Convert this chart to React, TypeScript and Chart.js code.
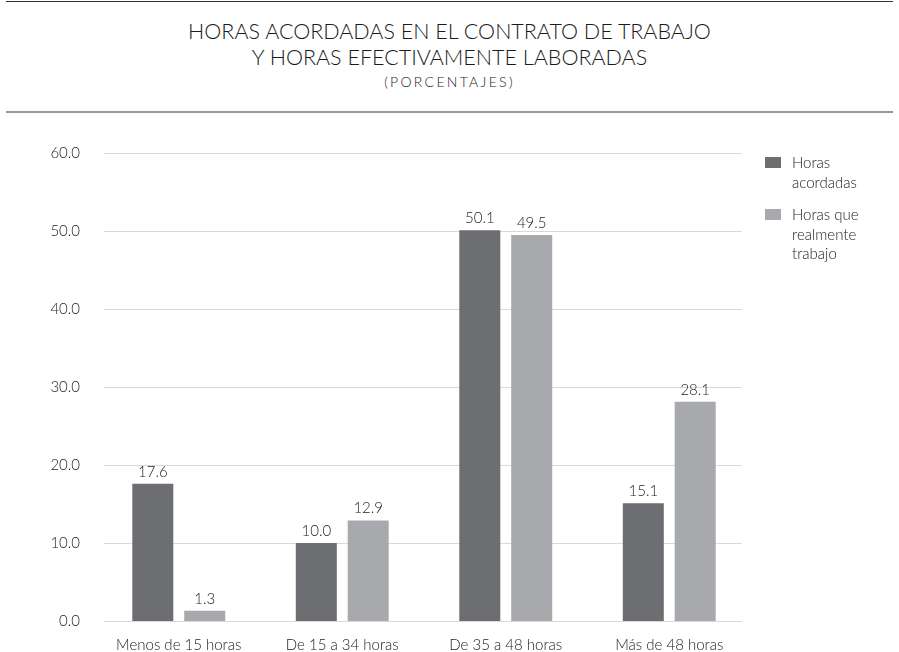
import React, { useEffect, useRef } from "react";
import { Chart, registerables } from "chart.js";

Chart.register(...registerables);

const categories = ["Menos de 15 horas", "De 15 a 34 horas", "De 35 a 48 horas", "Más de 48 horas"];
const acordadas = [17.6, 10.0, 50.1, 15.1];
const realmente = [1.3, 12.9, 49.5, 28.1];
const seriesLabels = [["Horas", "acordadas"], ["Horas que", "realmente", "trabajo"]];
const seriesColors = ["#6d6e71", "#a7a9ac"];
const titleLines = ["HORAS ACORDADAS EN EL CONTRATO DE TRABAJO", "Y HORAS EFECTIVAMENTE LABORADAS"];
const subtitle = "(PORCENTAJES)";
const yMin = 0;
const yMax = 60;
const yStep = 10;

const FONT = "Lato, 'Open Sans', sans-serif";
const TEXT = "#222222";

const gridPlugin = {
  id: "shortGrid",
  beforeDatasetsDraw(chart: any) {
    const { ctx, chartArea, scales } = chart;
    const y = scales.y;
    ctx.save();
    ctx.strokeStyle = "#d9d9d9";
    ctx.lineWidth = 1;
    y.ticks.forEach((t: any) => {
      const py = Math.round(y.getPixelForValue(t.value)) + 0.5;
      ctx.beginPath();
      ctx.moveTo(chartArea.left + 7, py);
      ctx.lineTo(chartArea.right - 9, py);
      ctx.stroke();
    });
    ctx.restore();
  },
};

const valueLabelPlugin = {
  id: "valueLabels",
  afterDatasetsDraw(chart: any) {
    const { ctx } = chart;
    ctx.save();
    ctx.font = `300 15px ${FONT}`;
    ctx.fillStyle = TEXT;
    ctx.textAlign = "center";
    ctx.textBaseline = "middle";
    chart.data.datasets.forEach((ds: any, i: number) => {
      const meta = chart.getDatasetMeta(i);
      meta.data.forEach((el: any, j: number) => {
        const v = ds.data[j] as number;
        ctx.fillText(v.toFixed(1), el.x, el.y - 12);
      });
    });
    ctx.restore();
  },
};

export default function App() {
  const ref = useRef<HTMLCanvasElement | null>(null);

  useEffect(() => {
    document.body.style.margin = "0";
    if (!ref.current) return;
    const chart = new Chart(ref.current, {
      type: "bar",
      data: {
        labels: categories,
        datasets: [
          {
            label: seriesLabels[0].join(" "),
            data: acordadas,
            backgroundColor: seriesColors[0],
            barPercentage: 0.79,
            categoryPercentage: 0.635,
          },
          {
            label: seriesLabels[1].join(" "),
            data: realmente,
            backgroundColor: seriesColors[1],
            barPercentage: 0.79,
            categoryPercentage: 0.635,
          },
        ],
      },
      options: {
        animation: false,
        responsive: false,
        maintainAspectRatio: false,
        layout: { padding: { top: 153, right: 148, left: 0, bottom: 0 } },
        plugins: {
          legend: { display: false },
          tooltip: { enabled: false },
          title: { display: false },
        },
        scales: {
          x: {
            grid: { display: false },
            border: { display: false },
            ticks: { font: { family: FONT, size: 15, weight: "300" }, color: TEXT, padding: 7, maxRotation: 0 },
            afterFit: (s: any) => {
              s.height = 31;
            },
          },
          y: {
            min: yMin,
            max: yMax,
            grid: { display: false },
            border: { display: false },
            ticks: {
              stepSize: yStep,
              font: { family: FONT, size: 15, weight: "300" },
              color: TEXT,
              padding: 9,
              callback: (v: any) => Number(v).toFixed(1),
            },
            afterFit: (s: any) => {
              s.width = 97;
            },
          },
        },
      },
      plugins: [gridPlugin, valueLabelPlugin],
    });
    return () => chart.destroy();
  }, []);

  return (
    <div style={{ position: "relative", width: 899, height: 652, background: "#fff", fontFamily: FONT, color: TEXT }}>
      <div style={{ position: "absolute", left: 6, right: 6, top: 1, height: 1, background: "#333" }} />
      <div style={{ position: "absolute", left: 0, right: 0, top: 18, textAlign: "center", fontSize: 21.5, lineHeight: "26px", fontWeight: 300, color: "#1a1a1a" }}>
        {titleLines.map((t, i) => (
          <div key={i}>{t}</div>
        ))}
      </div>
      <div style={{ position: "absolute", left: 0, right: 0, top: 73, textAlign: "center", fontSize: 14, lineHeight: "18px", letterSpacing: "2.3px", fontWeight: 300, color: "#222" }}>
        {subtitle}
      </div>
      <div style={{ position: "absolute", left: 6, right: 6, top: 111, height: 2, background: "#9a9a9a" }} />
      <canvas ref={ref} width={899} height={652} style={{ position: "absolute", left: 0, top: 0, width: 899, height: 652 }} />
      {seriesLabels.map((lines, i) => (
        <div key={i} style={{ position: "absolute", left: 765, top: i === 0 ? 153 : 205 }}>
          <div style={{ position: "absolute", left: 0, top: 4, width: 16, height: 10.5, background: seriesColors[i] }} />
          <div style={{ position: "absolute", left: 27, top: 0, fontSize: 15, lineHeight: "19.5px", whiteSpace: "nowrap", fontWeight: 300 }}>
            {lines.map((l, k) => (
              <div key={k}>{l}</div>
            ))}
          </div>
        </div>
      ))}
    </div>
  );
}
